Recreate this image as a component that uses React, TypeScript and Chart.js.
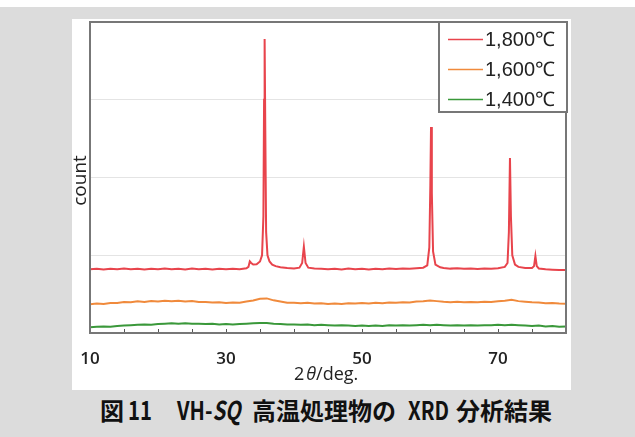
import React, { useEffect, useRef } from 'react';
import { Chart, registerables } from 'chart.js';

Chart.register(...registerables);

const seriesLabels = ['1,800℃', '1,600℃', '1,400℃'];
const seriesColors = ['#e8444c', '#f08a3c', '#3a983a'];
const xLabelValues = [10, 30, 50, 70];

const redTheta = [
  10, 11, 12, 13, 14, 15, 16, 17, 18, 19, 20, 21, 22, 23, 24, 25, 26, 27, 28, 29, 30, 31, 32, 33,
  33.3, 33.5, 33.7, 34.0, 34.5, 35.0, 35.3, 35.5, 35.6, 35.68, 35.78, 35.9, 36.1, 36.4, 36.8, 37.3,
  38, 39, 40, 40.8, 41.2, 41.45, 41.7, 42.1, 43, 44, 45, 46, 47, 48, 49, 50, 51, 52, 53, 54, 55, 56,
  57, 58, 59, 59.6, 59.9, 60.05, 60.15, 60.27, 60.45, 60.8, 61.5, 62, 63, 64, 65, 66, 67, 68, 69, 70,
  71, 71.4, 71.6, 71.76, 71.9, 72.1, 72.5, 73, 74, 75, 75.3, 75.5, 75.7, 76, 77, 78, 79, 80,
];
const redCount = [
  0.82, 0.826, 0.816, 0.826, 0.82, 0.83, 0.82, 0.826, 0.816, 0.826, 0.82, 0.83, 0.82, 0.826, 0.818, 0.83, 0.82, 0.826, 0.816, 0.826, 0.82, 0.826, 0.82, 0.832,
  0.85, 0.92, 0.9, 0.88, 0.885, 0.92, 1.0, 1.5, 3.0, 3.78, 2.6, 1.3, 1.0, 0.92, 0.88, 0.86,
  0.845, 0.835, 0.83, 0.84, 0.9, 1.11, 0.9, 0.84, 0.83, 0.826, 0.82, 0.826, 0.818, 0.828, 0.82, 0.826, 0.818, 0.826, 0.82, 0.828, 0.822, 0.83,
  0.826, 0.834, 0.84, 0.87, 1.1, 1.9, 2.65, 1.8, 1.05, 0.88, 0.845, 0.836, 0.828, 0.832, 0.825, 0.83, 0.824, 0.83, 0.826, 0.834,
  0.85, 0.9, 1.3, 2.25, 1.5, 1.0, 0.88, 0.85, 0.835, 0.835, 0.86, 0.99, 0.86, 0.83, 0.82, 0.815, 0.81, 0.81,
];

const baseTheta = [
  10, 11, 12, 13, 14, 15, 16, 17, 18, 19, 20, 21, 22, 23, 24, 25, 26, 27, 28, 29, 30, 31, 32, 33, 34,
  35, 36, 37, 38, 39, 40, 41, 42, 43, 44, 45, 46, 47, 48, 49, 50, 51, 52, 53, 54, 55, 56, 57, 58, 59,
  60, 61, 62, 63, 64, 65, 66, 67, 68, 69, 70, 71, 72, 73, 74, 75, 76, 77, 78, 79, 80,
];
const orangeCount = [
  0.37, 0.38, 0.372, 0.386, 0.385, 0.398, 0.395, 0.408, 0.4, 0.412, 0.405, 0.415, 0.408, 0.416, 0.405, 0.412, 0.4, 0.398, 0.392, 0.395, 0.385, 0.392, 0.39, 0.405, 0.418,
  0.44, 0.445, 0.42, 0.405, 0.388, 0.39, 0.383, 0.388, 0.378, 0.384, 0.372, 0.38, 0.374, 0.383, 0.378, 0.386, 0.38, 0.39, 0.384, 0.392, 0.388, 0.396, 0.392, 0.404, 0.408,
  0.418, 0.41, 0.402, 0.396, 0.402, 0.394, 0.4, 0.396, 0.402, 0.398, 0.408, 0.415, 0.426, 0.41, 0.402, 0.395, 0.392, 0.384, 0.386, 0.378, 0.376,
];
const greenCount = [
  0.075, 0.08, 0.085, 0.08, 0.09, 0.095, 0.1, 0.105, 0.11, 0.105, 0.115, 0.12, 0.125, 0.12, 0.125, 0.12, 0.12, 0.115, 0.12, 0.11, 0.115, 0.11, 0.115, 0.12, 0.125,
  0.13, 0.13, 0.12, 0.115, 0.11, 0.11, 0.105, 0.11, 0.1, 0.105, 0.1, 0.095, 0.1, 0.095, 0.09, 0.095, 0.09, 0.095, 0.09, 0.1, 0.095, 0.1, 0.095, 0.1, 0.105,
  0.1, 0.105, 0.1, 0.095, 0.1, 0.095, 0.1, 0.095, 0.1, 0.1, 0.105, 0.1, 0.105, 0.1, 0.095, 0.09, 0.095, 0.085, 0.09, 0.08, 0.085,
];

const toPoints = (xs: number[], ys: number[]) => xs.map((x, i) => ({ x, y: ys[i] }));

const decorPlugin = {
  id: 'decor',
  afterDraw(chart: any) {
    const { ctx, chartArea } = chart;
    const { left, right, top, bottom } = chartArea;
    const xs = chart.scales.x;
    ctx.save();
    // inward tick marks
    ctx.strokeStyle = '#555';
    ctx.lineWidth = 1;
    xs.ticks.forEach((t: any) => {
      const px = Math.round(xs.getPixelForValue(t.value)) + 0.5;
      ctx.beginPath();
      ctx.moveTo(px, bottom);
      ctx.lineTo(px, bottom - 4);
      ctx.stroke();
    });
    // frame
    ctx.strokeStyle = '#777';
    ctx.lineWidth = 2;
    ctx.strokeRect(left, top, right - left, bottom - top);

    // legend
    const bw = 128;
    const bh = 90;
    const bx = right - bw + 1;
    const by = top;
    ctx.fillStyle = '#fff';
    ctx.fillRect(bx, by, bw, bh);
    ctx.strokeStyle = '#777';
    ctx.lineWidth = 2;
    ctx.strokeRect(bx, by, bw, bh);
    ctx.font = '20px "Liberation Sans", Arial, sans-serif';
    ctx.textBaseline = 'middle';
    ctx.textAlign = 'left';
    chart.data.datasets.forEach((ds: any, i: number) => {
      const cy = by + 17 + i * 30;
      ctx.strokeStyle = ds.borderColor;
      ctx.lineWidth = 1.5;
      ctx.beginPath();
      ctx.moveTo(bx + 9, cy + 0.5);
      ctx.lineTo(bx + 44, cy + 0.5);
      ctx.stroke();
      ctx.fillStyle = '#222';
      ctx.fillText(ds.label, bx + 46, cy + 1);
    });

    // y title
    ctx.save();
    ctx.translate(9, (top + bottom) / 2 + 3);
    ctx.rotate(-Math.PI / 2);
    ctx.font = '19px "Open Sans", sans-serif';
    ctx.fillStyle = '#222';
    ctx.textAlign = 'center';
    ctx.textBaseline = 'middle';
    ctx.fillText('count', 0, 0);
    ctx.restore();

    // x title: 2θ/deg.
    ctx.fillStyle = '#222';
    ctx.textAlign = 'left';
    ctx.textBaseline = 'alphabetic';
    const baseY = 361;
    let cx = 222;
    ctx.font = '18px "Open Sans", sans-serif';
    ctx.fillText('2', cx, baseY);
    cx += ctx.measureText('2').width + 2;
    ctx.font = 'italic 18px "Open Sans", sans-serif';
    ctx.fillText('θ', cx, baseY);
    cx += ctx.measureText('θ').width;
    ctx.font = '18px "Open Sans", sans-serif';
    ctx.fillText('/deg.', cx, baseY);
    ctx.restore();
  },
};

export default function App() {
  const canvasRef = useRef<HTMLCanvasElement | null>(null);

  useEffect(() => {
    if (!canvasRef.current) return;
    const chart = new Chart(canvasRef.current, {
      type: 'line',
      data: {
        datasets: [
          { label: seriesLabels[0], data: toPoints(redTheta, redCount), borderColor: seriesColors[0] },
          { label: seriesLabels[1], data: toPoints(baseTheta, orangeCount), borderColor: seriesColors[1] },
          { label: seriesLabels[2], data: toPoints(baseTheta, greenCount), borderColor: seriesColors[2] },
        ].map((d) => ({ ...d, borderWidth: 2, pointRadius: 0, tension: 0, fill: false })),
      },
      options: {
        responsive: false,
        animation: false,
        devicePixelRatio: 1,
        layout: { padding: { left: 18, top: 3, right: 5, bottom: 0 } },
        plugins: { legend: { display: false }, tooltip: { enabled: false } },
        scales: {
          x: {
            type: 'linear',
            min: 10,
            max: 80,
            grid: { display: true, color: 'rgba(0,0,0,0)', drawOnChartArea: false, drawTicks: true, tickLength: 14 },
            border: { display: false },
            ticks: {
              stepSize: 5,
              autoSkip: false,
              maxRotation: 0,
              padding: 2,
              color: '#222',
              font: { family: '"Open Sans", sans-serif', size: 17, weight: '600' },
              callback: (v: any) => (xLabelValues.includes(Number(v)) ? String(v) : ''),
            },
            afterFit: (s: any) => {
              s.height = 57;
            },
          },
          y: {
            type: 'linear',
            min: 0,
            max: 4,
            grid: { color: '#e4e4e4', lineWidth: 1, drawTicks: false },
            border: { display: false },
            ticks: { display: false, stepSize: 1 },
            afterFit: (s: any) => {
              s.width = 0;
            },
          },
        },
      },
      plugins: [decorPlugin],
    });
    return () => chart.destroy();
  }, []);

  const cjk = '"Noto Sans CJK JP", sans-serif';
  const seg = (text: React.ReactNode, left: number, latin = false) => (
    <span
      style={{
        position: 'absolute',
        left,
        top: latin ? 395 : 397,
        fontFamily: cjk,
        fontWeight: 700,
        fontSize: latin ? 26 : 24,
        lineHeight: latin ? '28px' : '26px',
        color: '#111',
        whiteSpace: 'nowrap',
        display: 'inline-block',
        transform: latin ? 'scaleX(0.78)' : undefined,
        transformOrigin: 'left center',
      }}
    >
      {text}
    </span>
  );

  return (
    <div style={{ position: 'absolute', left: 0, top: 0, width: 635, height: 437, background: '#dcdcdc', overflow: 'hidden' }}>
      <div style={{ position: 'absolute', left: 0, top: 0, width: 635, height: 7, background: '#fff' }} />
      <div style={{ position: 'absolute', left: 72, top: 19, width: 499, height: 371, background: '#fff' }}>
        <canvas ref={canvasRef} width={499} height={371} style={{ display: 'block' }} />
      </div>
      {seg('図', 100)}
      {seg('11', 128, true)}
      {seg(
        <>
          VH-<i>SQ</i>
        </>,
        177,
        true
      )}
      {seg('高温処理物の', 252)}
      {seg('XRD', 408, true)}
      {seg('分析結果', 456)}
    </div>
  );
}
